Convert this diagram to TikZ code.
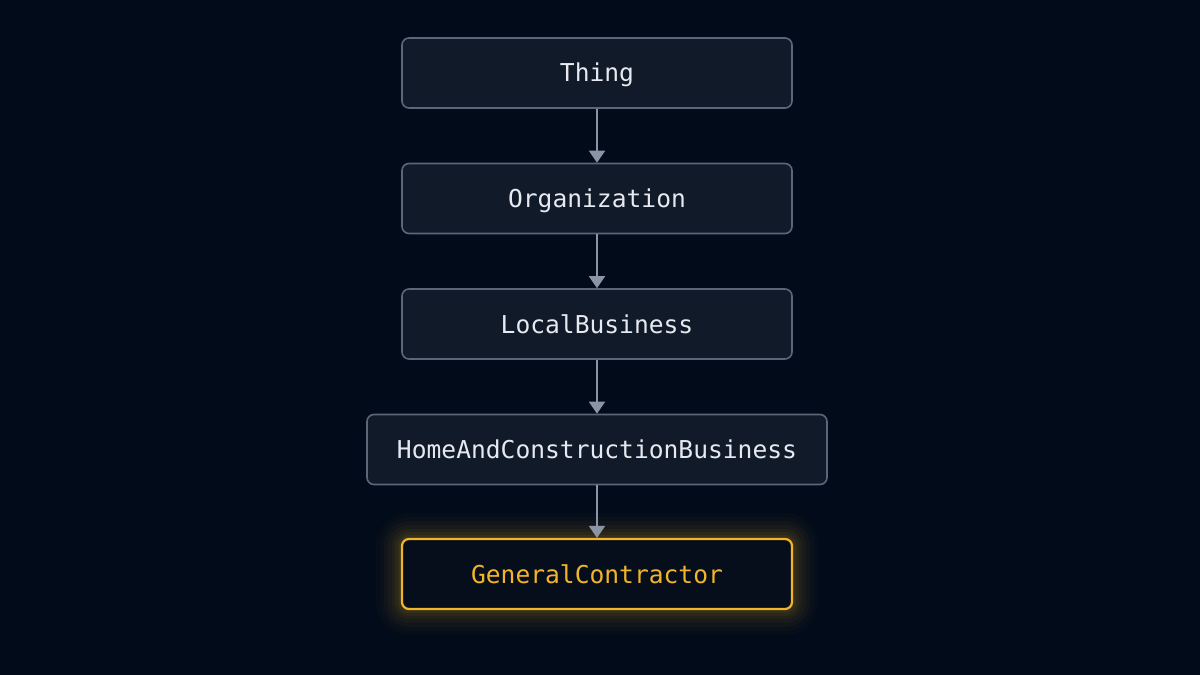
\documentclass[tikz,border=0pt]{standalone}
\usepackage{fontspec}
\setmonofont{DejaVu Sans Mono}
\usetikzlibrary{arrows.meta}
\definecolor{bg}{HTML}{020B1A}
\definecolor{boxfill}{HTML}{111A29}
\definecolor{boxdraw}{HTML}{5B6678}
\definecolor{arrowc}{HTML}{8A94A4}
\definecolor{txt}{HTML}{E6EAF0}
\definecolor{gold}{HTML}{F2B52A}
\definecolor{goldfill}{HTML}{070E1B}
\tikzset{
  cls/.style={draw=boxdraw, fill=boxfill, line width=1.6bp, rounded corners=7bp,
    minimum height=70bp, minimum width=390bp, text=txt,
    font=\ttfamily\fontsize{24.7}{29}\selectfont, inner sep=0pt,
    text height=18bp, text depth=0pt},
  hl/.style={cls, draw=gold, fill=goldfill, text=gold, line width=2.2bp},
  link/.style={draw=arrowc, line width=1.8bp, -{Triangle[length=12bp,width=16bp]}},
}
\begin{document}
\begin{tikzpicture}[x=1bp,y=-1bp]
\fill[bg] (0,0) rectangle (1200,675);
\useasboundingbox (0,0) rectangle (1200,675);
% glow
\foreach \r/\o in {26/0.02,22/0.025,18/0.03,14/0.035,10/0.04,7/0.05,4/0.06}{
  \fill[gold, opacity=\o, rounded corners={7bp+\r bp}] (402-\r,539-\r) rectangle (792+\r,609+\r);
}
\node[cls] (thing) at (597,73) {Thing};
\node[cls] (org) at (597,198.5) {Organization};
\node[cls] (local) at (597,324) {LocalBusiness};
\node[cls, minimum width=460bp] (home) at (597,449.5) {HomeAndConstructionBusiness};
\node[hl] (gc) at (597,574) {GeneralContractor};
\draw[link] (thing) -- (org);
\draw[link] (org) -- (local);
\draw[link] (local) -- (home);
\draw[link] (home) -- (gc);
\end{tikzpicture}
\end{document}
